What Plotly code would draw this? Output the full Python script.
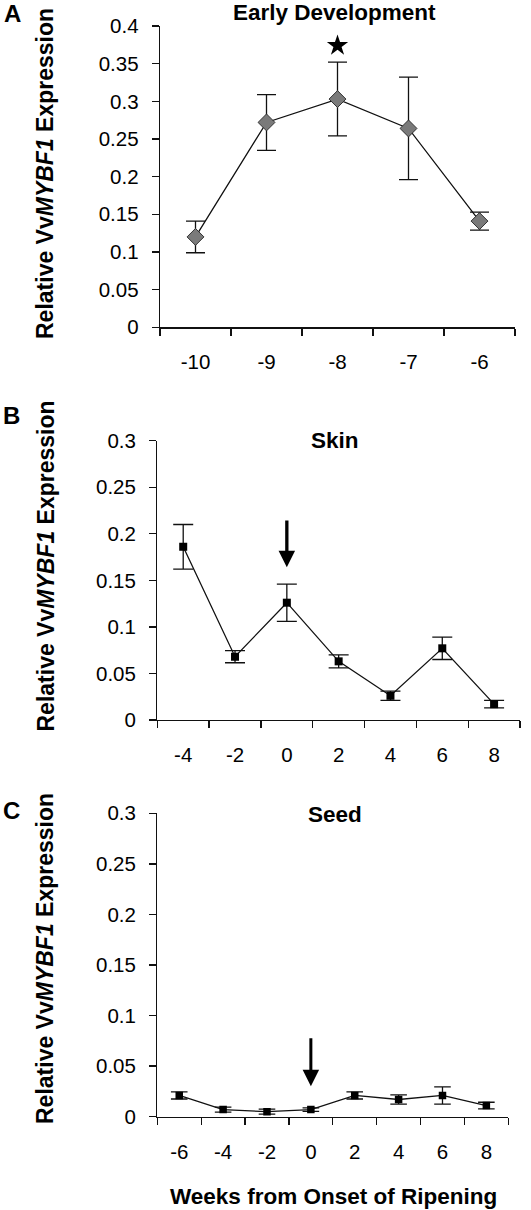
import plotly.graph_objects as go

W, H = 531, 1210

# ---- data ----
a_weeks = ["-10", "-9", "-8", "-7", "-6"]
a_mean = [0.120, 0.272, 0.303, 0.264, 0.141]
a_err = [0.021, 0.037, 0.049, 0.068, 0.012]
a_star_week = ["-8"]
a_star_y = [0.374]

b_weeks = ["-4", "-2", "0", "2", "4", "6", "8"]
b_mean = [0.186, 0.068, 0.126, 0.063, 0.026, 0.077, 0.017]
b_err = [0.024, 0.0065, 0.020, 0.007, 0.005, 0.012, 0.004]
b_arrow_week = "0"
b_arrow_tip, b_arrow_tail = 0.164, 0.216

c_weeks = ["-6", "-4", "-2", "0", "2", "4", "6", "8"]
c_mean = [0.021, 0.007, 0.005, 0.007, 0.021, 0.017, 0.021, 0.011]
c_err = [0.0035, 0.0025, 0.0025, 0.0017, 0.0035, 0.0045, 0.0085, 0.0033]
c_arrow_week = "0"
c_arrow_tip, c_arrow_tail = 0.030, 0.079

FONT = "Liberation Sans, Arial, sans-serif"
TICK = 20.5
TITLE = 22.5
YTITLE = 23
INK = "#111111"

def px_x(p):
    return p / W

def px_y(p):
    return 1 - p / H

fig = go.Figure()

# Panel A
fig.add_trace(go.Scatter(
    x=a_weeks, y=a_mean, mode="lines+markers", xaxis="x", yaxis="y",
    line=dict(color=INK, width=1.3),
    marker=dict(symbol="diamond", size=13, color="#7a7a7a", line=dict(color="#333333", width=1)),
    error_y=dict(type="data", array=a_err, visible=True, color=INK, thickness=1.3, width=9.5),
    showlegend=False))
fig.add_trace(go.Scatter(
    x=a_star_week, y=a_star_y, mode="markers", xaxis="x", yaxis="y",
    marker=dict(symbol="star", size=16, color="black"), showlegend=False))

# Panel B
fig.add_trace(go.Scatter(
    x=b_weeks, y=b_mean, mode="lines+markers", xaxis="x2", yaxis="y2",
    line=dict(color=INK, width=1.3),
    marker=dict(symbol="square", size=8, color="black"),
    error_y=dict(type="data", array=b_err, visible=True, color=INK, thickness=1.3, width=10),
    showlegend=False))

# Panel C
fig.add_trace(go.Scatter(
    x=c_weeks, y=c_mean, mode="lines+markers", xaxis="x3", yaxis="y3",
    line=dict(color=INK, width=1.3),
    marker=dict(symbol="square", size=7.5, color="black"),
    error_y=dict(type="data", array=c_err, visible=True, color=INK, thickness=1.3, width=8.3),
    showlegend=False))

def xax(dom, anchor, cats):
    return dict(domain=dom, anchor=anchor, type="category", categoryorder="array",
                categoryarray=cats, range=[-0.5, len(cats) - 0.5],
                showline=True, linecolor=INK, linewidth=1.3, mirror=False,
                ticks="outside", ticklen=7, tickwidth=1.3, tickcolor=INK,
                tickson="boundaries", showgrid=False, zeroline=False,
                tickfont=dict(family=FONT, size=TICK, color="black"),
                ticklabelstandoff=16, automargin=False, fixedrange=True)

def yax(dom, anchor, top):
    return dict(domain=dom, anchor=anchor, range=[0, top], dtick=0.05, tick0=0,
                showline=True, linecolor=INK, linewidth=1.3,
                ticks="outside", ticklen=7, tickwidth=1.3, tickcolor=INK,
                showgrid=False, zeroline=False,
                tickfont=dict(family=FONT, size=TICK, color="black"),
                ticklabelstandoff=9, automargin=False, fixedrange=True)

fig.update_layout(
    width=W, height=H, autosize=False,
    margin=dict(l=0, r=0, t=0, b=0, pad=0),
    paper_bgcolor="white", plot_bgcolor="white",
    hovermode=False,
    xaxis=xax([px_x(160), px_x(515)], "y", a_weeks),
    yaxis=yax([px_y(327.3), px_y(26)], "x", 0.4),
    xaxis2=xax([px_x(157.3), px_x(520)], "y2", b_weeks),
    yaxis2=yax([px_y(720), px_y(440.7)], "x2", 0.3),
    xaxis3=xax([px_x(157.3), px_x(508.3)], "y3", c_weeks),
    yaxis3=yax([px_y(1116.7), px_y(813.3)], "x3", 0.3),
)

ann = []
def text_ann(txt, x, y, size, angle=0):
    ann.append(dict(text=txt, x=px_x(x), y=px_y(y), xref="paper", yref="paper",
                    showarrow=False, xanchor="center", yanchor="middle", textangle=angle,
                    font=dict(family=FONT, size=size, color="black")))

text_ann("<b>Early Development</b>", 334, 12.5, TITLE)
text_ann("<b>Skin</b>", 334.5, 440.7, TITLE)
text_ann("<b>Seed</b>", 334.5, 814, TITLE)
text_ann("<b>Weeks from Onset of Ripening</b>", 333, 1196.7, TITLE)
text_ann("<b>A</b>", 12, 14, 24)
text_ann("<b>B</b>", 11, 415, 24)
text_ann("<b>C</b>", 11, 810, 24)
ylab = "<b>Relative Vv<i>MYBF1</i> Expression</b>"
text_ann(ylab, 45, 174, YTITLE, -90)
text_ann(ylab, 45, 566.5, YTITLE, -90)
text_ann(ylab, 45, 959, YTITLE, -90)

# arrows marking onset of ripening (category positions by index)
ann.append(dict(x=b_weeks.index(b_arrow_week), y=b_arrow_tip, xref="x2", yref="y2",
                ax=0, ay=b_arrow_tail, axref="pixel", ayref="y2",
                showarrow=True, arrowhead=2, arrowsize=1.0, arrowwidth=3.3,
                arrowcolor="black", standoff=0, text=""))
ann.append(dict(x=c_weeks.index(c_arrow_week), y=c_arrow_tip, xref="x3", yref="y3",
                ax=0, ay=c_arrow_tail, axref="pixel", ayref="y3",
                showarrow=True, arrowhead=2, arrowsize=1.1, arrowwidth=3.0,
                arrowcolor="black", standoff=0, text=""))

fig.update_layout(annotations=ann)
fig.write_html("out.html",
               config={"displayModeBar": False, "staticPlot": True},
               post_script="document.body.style.margin='0';document.body.style.overflow='hidden';")
